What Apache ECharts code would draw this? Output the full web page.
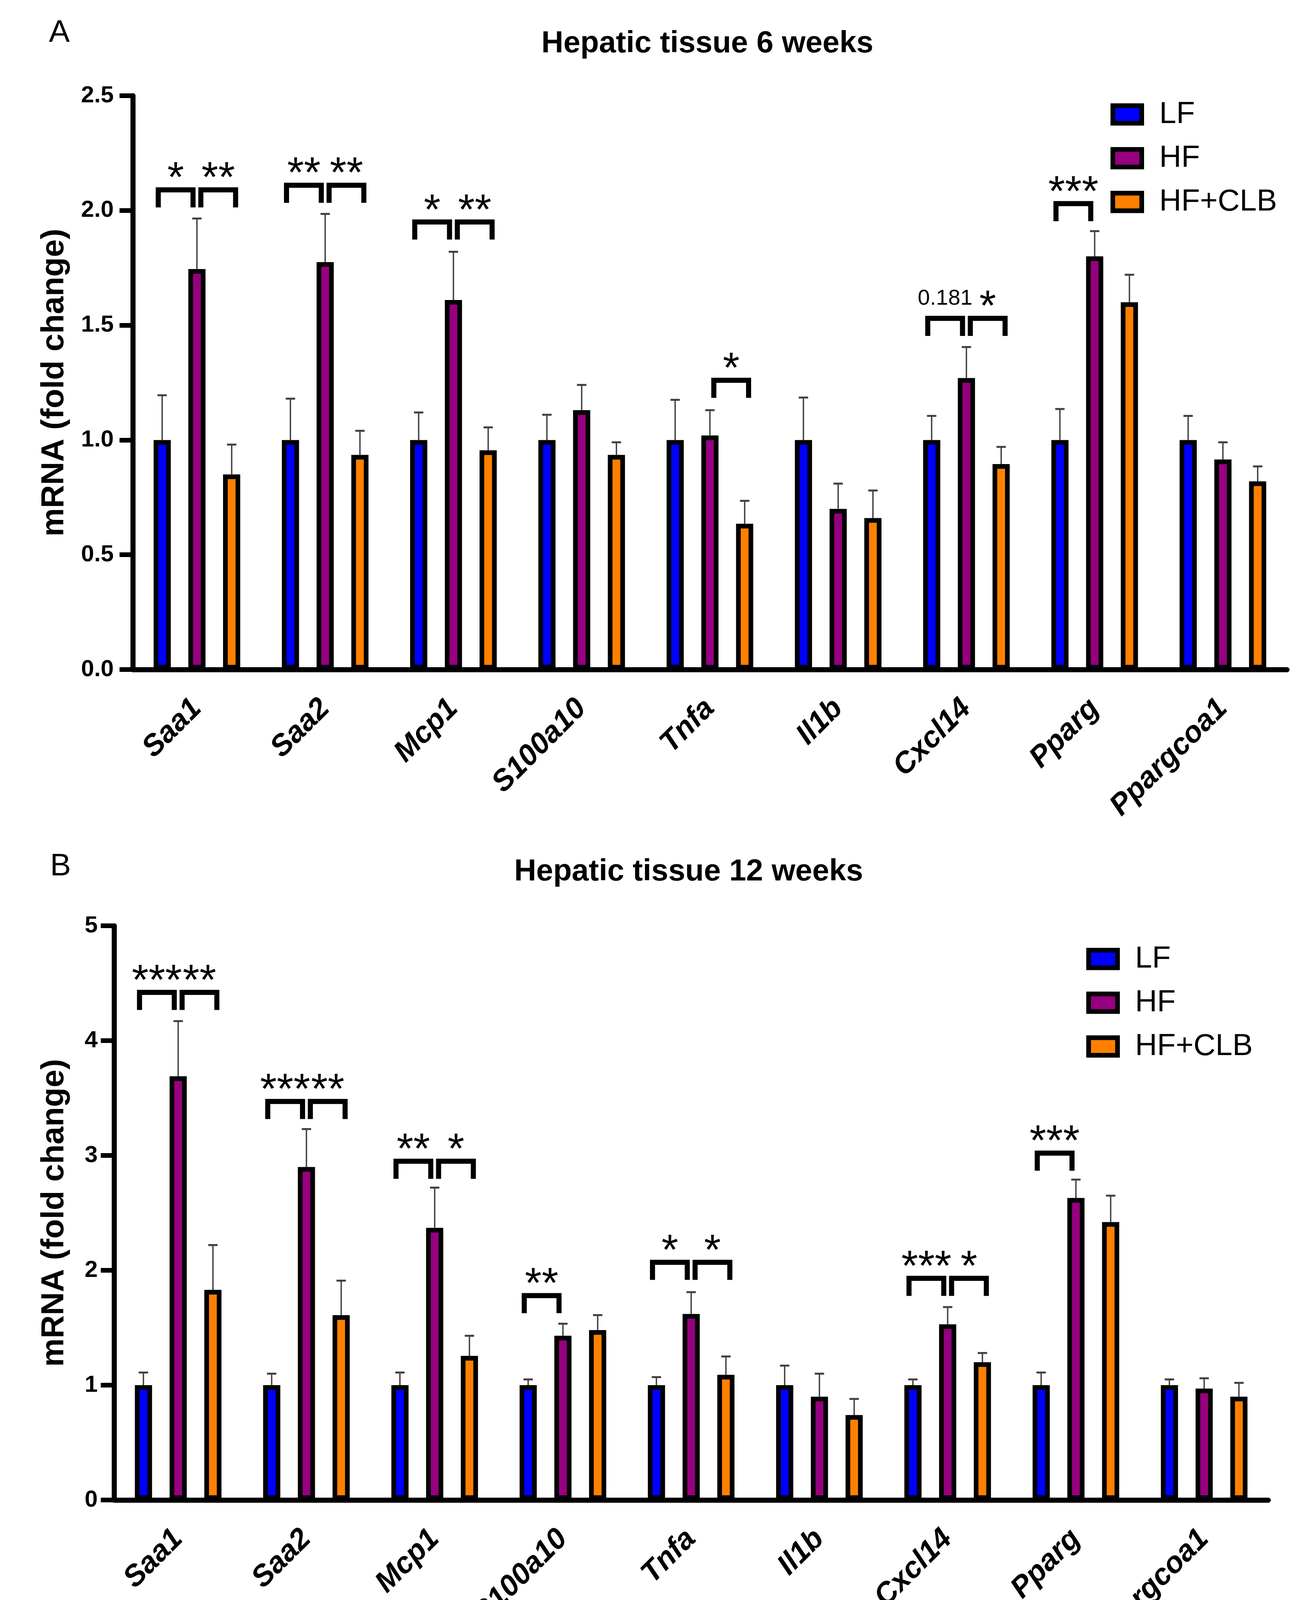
<!DOCTYPE html>
<html><head><meta charset="utf-8">
<script src="https://cdn.jsdelivr.net/npm/echarts@6/dist/echarts.min.js"></script>
<style>html,body{margin:0;padding:0;background:#fff}#c{width:3341px;height:4263px}</style>
</head><body><div id="c"></div>
<script>
// ---------- data ----------
const categories = ['Saa1','Saa2','Mcp1','S100a10','Tnfa','Il1b','Cxcl14','Pparg','Ppargcoa1'];
const groups = ['LF','HF','HF+CLB'];

// 6 weeks: means and SEM (upper error)
const lf6     = [1, 1, 1, 1, 1, 1, 1, 1, 1];
const lf6Sem  = [0.195, 0.18, 0.12, 0.11, 0.175, 0.185, 0.105, 0.135, 0.105];
const hf6     = [1.745, 1.775, 1.61, 1.13, 1.02, 0.70, 1.27, 1.80, 0.915];
const hf6Sem  = [0.22, 0.21, 0.21, 0.11, 0.11, 0.11, 0.135, 0.11, 0.075];
const clb6    = [0.85, 0.935, 0.955, 0.935, 0.635, 0.66, 0.895, 1.60, 0.82];
const clb6Sem = [0.13, 0.105, 0.10, 0.055, 0.10, 0.12, 0.075, 0.12, 0.065];

// 12 weeks
const lf12     = [1, 1, 1, 1, 1, 1, 1, 1, 1];
const lf12Sem  = [0.11, 0.10, 0.11, 0.05, 0.07, 0.17, 0.05, 0.11, 0.05];
const hf12     = [3.69, 2.90, 2.37, 1.43, 1.62, 0.90, 1.53, 2.63, 0.97];
const hf12Sem  = [0.48, 0.33, 0.35, 0.105, 0.19, 0.20, 0.15, 0.16, 0.09];
const clb12    = [1.83, 1.61, 1.255, 1.48, 1.09, 0.74, 1.20, 2.42, 0.90];
const clb12Sem = [0.39, 0.30, 0.175, 0.13, 0.16, 0.14, 0.08, 0.23, 0.12];

// significance annotations (side: -1 = LF vs HF, 1 = HF vs HF+CLB)
const sig6Cat   = [0, 0, 1, 1, 2, 2, 4, 6, 6, 7];
const sig6Side  = [-1, 1, -1, 1, -1, 1, 1, -1, 1, -1];
const sig6Level = [2.09, 2.09, 2.11, 2.11, 1.95, 1.95, 1.26, 1.53, 1.53, 2.03];
const sig6Text  = ['*', '**', '**', '**', '*', '**', '*', '0.181', '*', '***'];

const sig12Cat   = [0, 0, 1, 1, 2, 2, 3, 4, 4, 6, 6, 7];
const sig12Side  = [-1, 1, -1, 1, -1, 1, -1, -1, 1, -1, 1, -1];
const sig12Level = [4.42, 4.42, 3.47, 3.47, 2.95, 2.95, 1.78, 2.07, 2.07, 1.93, 1.93, 3.02];
const sig12Text  = ['***', '**', '***', '**', '**', '*', '**', '*', '*', '***', '*', '***'];

const yTicks6 = [0, 0.5, 1.0, 1.5, 2.0, 2.5];
const yTicks12 = [0, 1, 2, 3, 4, 5];

// ---------- styles ----------
const FONT = "'Liberation Sans', Arial, Helvetica, sans-serif";
const COLORS = ['#0000ff', '#960080', '#ff8000'];
const BAR_W = 44, BAR_PITCH = 89, BORDER = 12;
const ERR_COLOR = '#404040';
const BR_SHIFT = 10, BR_LEG = 45;

function errRender(k) {
  return function (params, api) {
    const cat = api.value(0), mean = api.value(1), sem = api.value(2);
    const b = api.coord([cat, mean]);
    const t = api.coord([cat, mean + sem]);
    const x = b[0] + (k - 1) * BAR_PITCH;
    return { type: 'group', children: [
      { type: 'line', shape: { x1: x, y1: b[1], x2: x, y2: t[1] }, style: { stroke: ERR_COLOR, lineWidth: 3.5 } },
      { type: 'line', shape: { x1: x - 12, y1: t[1], x2: x + 12, y2: t[1] }, style: { stroke: ERR_COLOR, lineWidth: 5 } }
    ]};
  };
}

function sigRender(texts) {
  return function (params, api) {
    const cat = api.value(0), side = api.value(1), level = api.value(2);
    const p = api.coord([cat, level]);
    const c = p[0], y = p[1];
    let x1, x2;
    if (side < 0) { x1 = c - BAR_PITCH - BR_SHIFT; x2 = c - BR_SHIFT; }
    else { x1 = c + BR_SHIFT; x2 = c + BAR_PITCH + BR_SHIFT; }
    const label = texts[params.dataIndex];
    const isStar = /^\*+$/.test(label);
    return { type: 'group', children: [
      { type: 'polyline', shape: { points: [[x1, y + BR_LEG], [x1, y], [x2, y], [x2, y + BR_LEG]] },
        style: { stroke: '#000', lineWidth: 13, fill: 'none', lineJoin: 'miter', lineCap: 'butt' } },
      { type: 'text', x: (x1 + x2) / 2, y: isStar ? y - 26 : y - 22,
        style: { text: label, fill: '#000', font: isStar ? ('110px ' + FONT) : ('56px ' + FONT),
                 align: 'center', verticalAlign: isStar ? 'middle' : 'bottom',
                 textAlign: 'center', textVerticalAlign: isStar ? 'middle' : 'bottom' } }
    ]};
  };
}

function barSeries(gi, name, data, k) {
  return { type: 'bar', name: name, xAxisIndex: gi, yAxisIndex: gi, data: data,
    barWidth: BAR_W, barGap: '102%', z: 3,
    itemStyle: { color: COLORS[k], borderColor: '#000', borderWidth: BORDER } };
}
function errSeries(gi, means, sems, k) {
  return { type: 'custom', xAxisIndex: gi, yAxisIndex: gi, z: 2, silent: true,
    renderItem: errRender(k), data: means.map((m, i) => [i, m, sems[i]]) };
}
function sigSeries(gi, cats, sides, levels, texts) {
  return { type: 'custom', xAxisIndex: gi, yAxisIndex: gi, z: 4, silent: true, clip: false,
    renderItem: sigRender(texts), data: cats.map((c, i) => [c, sides[i], levels[i]]) };
}

function xAxis(gi) {
  return { gridIndex: gi, type: 'category', data: categories,
    axisLine: { lineStyle: { color: '#000', width: 13 } },
    axisTick: { alignWithLabel: true, length: 45, lineStyle: { color: '#000', width: 12 } },
    axisLabel: { rotate: 45, interval: 0, margin: 88, fontSize: 76, fontWeight: 'bold',
                 fontStyle: 'italic', color: '#000', fontFamily: FONT },
    splitLine: { show: false } };
}
function yAxis(gi, ticks, dec, gap, margin) {
  return { gridIndex: gi, type: 'value', min: ticks[0], max: ticks[ticks.length - 1],
    interval: ticks[1] - ticks[0],
    axisLine: { show: true, lineStyle: { color: '#000', width: 13 } },
    axisTick: { show: true, length: 34, lineStyle: { color: '#000', width: 12 } },
    axisLabel: { formatter: v => v.toFixed(dec), fontSize: 60, fontWeight: 'bold', color: '#000',
                 margin: margin, fontFamily: FONT },
    splitLine: { show: false },
    name: 'mRNA (fold change)', nameLocation: 'middle', nameGap: gap,
    nameTextStyle: { fontSize: 82, fontWeight: 'bold', color: '#000', fontFamily: FONT } };
}
function legend(left, top) {
  return { data: groups, orient: 'vertical', left: left, top: top, icon: 'rect',
    itemWidth: 74, itemHeight: 45, itemGap: 32,
    itemStyle: { borderColor: '#000', borderWidth: BORDER },
    textStyle: { fontSize: 78, lineHeight: 80, color: '#000', fontFamily: FONT, padding: [0, 0, 0, 40] } };
}

const chart = echarts.init(document.getElementById('c'), null, { renderer: 'canvas' });
chart.setOption({
  backgroundColor: '#fff',
  animation: false,
  textStyle: { fontFamily: FONT },
  grid: [
    { left: 340, top: 245, width: 2955, height: 1469 },
    { left: 292, top: 2370, width: 2955, height: 1470 }
  ],
  xAxis: [xAxis(0), xAxis(1)],
  yAxis: [yAxis(0, yTicks6, 1, 160, 49), yAxis(1, yTicks12, 0, 112, 42)],
  legend: [legend(2838, 248), legend(2776, 2410)],
  graphic: [
    { type: 'text', x: 152, y: 85, style: { text: 'A', font: '80px ' + FONT, fill: '#000', align: 'center', verticalAlign: 'middle' } },
    { type: 'text', x: 1811, y: 112, style: { text: 'Hepatic tissue 6 weeks', font: 'bold 78px ' + FONT, fill: '#000', align: 'center', verticalAlign: 'middle' } },
    { type: 'text', x: 155, y: 2219, style: { text: 'B', font: '80px ' + FONT, fill: '#000', align: 'center', verticalAlign: 'middle' } },
    { type: 'text', x: 1763, y: 2232, style: { text: 'Hepatic tissue 12 weeks', font: 'bold 78px ' + FONT, fill: '#000', align: 'center', verticalAlign: 'middle' } }
  ],
  series: [
    barSeries(0, 'LF', lf6, 0), barSeries(0, 'HF', hf6, 1), barSeries(0, 'HF+CLB', clb6, 2),
    errSeries(0, lf6, lf6Sem, 0), errSeries(0, hf6, hf6Sem, 1), errSeries(0, clb6, clb6Sem, 2),
    sigSeries(0, sig6Cat, sig6Side, sig6Level, sig6Text),
    barSeries(1, 'LF', lf12, 0), barSeries(1, 'HF', hf12, 1), barSeries(1, 'HF+CLB', clb12, 2),
    errSeries(1, lf12, lf12Sem, 0), errSeries(1, hf12, hf12Sem, 1), errSeries(1, clb12, clb12Sem, 2),
    sigSeries(1, sig12Cat, sig12Side, sig12Level, sig12Text)
  ]
});
</script>
</body></html>
